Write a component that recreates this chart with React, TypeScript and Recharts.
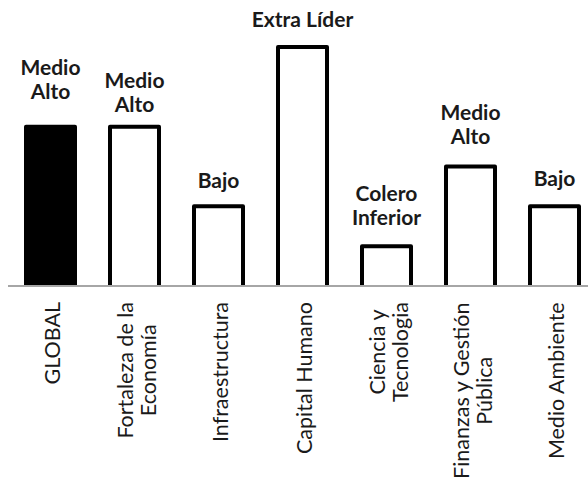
import React from 'react';
import { BarChart, Bar, XAxis, YAxis, LabelList, Cell } from 'recharts';

const categories = [
  'GLOBAL',
  'Fortaleza de la Economía',
  'Infraestructura',
  'Capital Humano',
  'Ciencia y Tecnologia',
  'Finanzas y Gestión Pública',
  'Medio Ambiente',
];
const tickLines = [
  ['GLOBAL'],
  ['Fortaleza de la', 'Economía'],
  ['Infraestructura'],
  ['Capital Humano'],
  ['Ciencia y', 'Tecnologia'],
  ['Finanzas y Gestión', 'Pública'],
  ['Medio Ambiente'],
];
const values = [4, 4, 2, 6, 1, 3, 2];
const levelLabels = [
  ['Medio', 'Alto'],
  ['Medio', 'Alto'],
  ['Bajo'],
  ['Extra Líder'],
  ['Colero', 'Inferior'],
  ['Medio', 'Alto'],
  ['Bajo'],
];
const fills = ['#000000', '#ffffff', '#ffffff', '#ffffff', '#ffffff', '#ffffff', '#ffffff'];
// vertical nudge of each level label (style only), in px
const labelNudge = [-8, 5, 1.5, 0, -1, -2.5, 0];

const data = categories.map((name, i) => ({ name, value: values[i] }));

const FONT = 'Lato, "Open Sans", sans-serif';
const TICK_FS = 21.5;
const LABEL_FS = 21;

let ctx: CanvasRenderingContext2D | null = null;
function measure(s: string, font: string) {
  if (!ctx) ctx = document.createElement('canvas').getContext('2d');
  if (!ctx) return s.length * 10;
  ctx.font = font;
  return ctx.measureText(s).width;
}

const Tick = (props: any) => {
  const { x, y, payload } = props;
  const i = payload.index;
  const lines = tickLines[i] || [String(payload.value)];
  const lh = 23;
  const capH = TICK_FS * 0.72;
  const lmax = Math.max(...lines.map((l) => measure(l, `400 ${TICK_FS}px Lato`)));
  const cy = y + 16 + lmax / 2;
  return (
    <text
      transform={`translate(${x},${cy}) rotate(-90)`}
      textAnchor="middle"
      fontFamily={FONT}
      fontSize={TICK_FS}
      fill="#1a1a1a"
    >
      {lines.map((l, k) => (
        <tspan key={k} x={0} y={(k - (lines.length - 1) / 2) * lh + capH / 2 + 2.5}>
          {l}
        </tspan>
      ))}
    </text>
  );
};

const BarShape = (props: any) => {
  const { x, y, width, height, fill } = props;
  return (
    <g>
      <rect x={x} y={y} width={width} height={height} fill={fill} />
      <path
        d={`M${x},${y + height} L${x},${y} L${x + width},${y} L${x + width},${y + height}`}
        fill="none"
        stroke="#000"
        strokeWidth={4}
        strokeLinejoin="round"
      />
    </g>
  );
};

const LevelLabel = (props: any) => {
  const { x, y, width, index } = props;
  const lines = levelLabels[index] || [];
  const nudge = labelNudge[index] || 0;
  const cx = x + width / 2;
  const n = lines.length;
  return (
    <text textAnchor="middle" fontFamily={FONT} fontWeight={700} fontSize={LABEL_FS} fill="#1a1a1a">
      {lines.map((l, k) => (
        <tspan key={k} x={cx} y={y - 20 + nudge - (n - 1 - k) * 24}>
          {l}
        </tspan>
      ))}
    </text>
  );
};

export default function App() {
  return (
    <div style={{ position: 'fixed', left: 0, top: 0, width: 588, height: 481, overflow: 'hidden', background: '#fff' }}>
      <BarChart
        width={596}
        height={481}
        data={data}
        margin={{ top: 47, right: 0, bottom: 0, left: 8 }}
        barSize={49}
      >
        <XAxis
          dataKey="name"
          interval={0}
          tickLine={false}
          tickSize={0}
          tickMargin={0}
          axisLine={{ stroke: '#a6a6a6', strokeWidth: 2 }}
          height={195}
          tick={<Tick />}
        />
        <YAxis hide domain={[0, 6]} />
        <Bar dataKey="value" isAnimationActive={false} shape={<BarShape />}>
          {data.map((d, i) => (
            <Cell key={i} fill={fills[i]} />
          ))}
          <LabelList dataKey="value" content={<LevelLabel />} />
        </Bar>
      </BarChart>
    </div>
  );
}
